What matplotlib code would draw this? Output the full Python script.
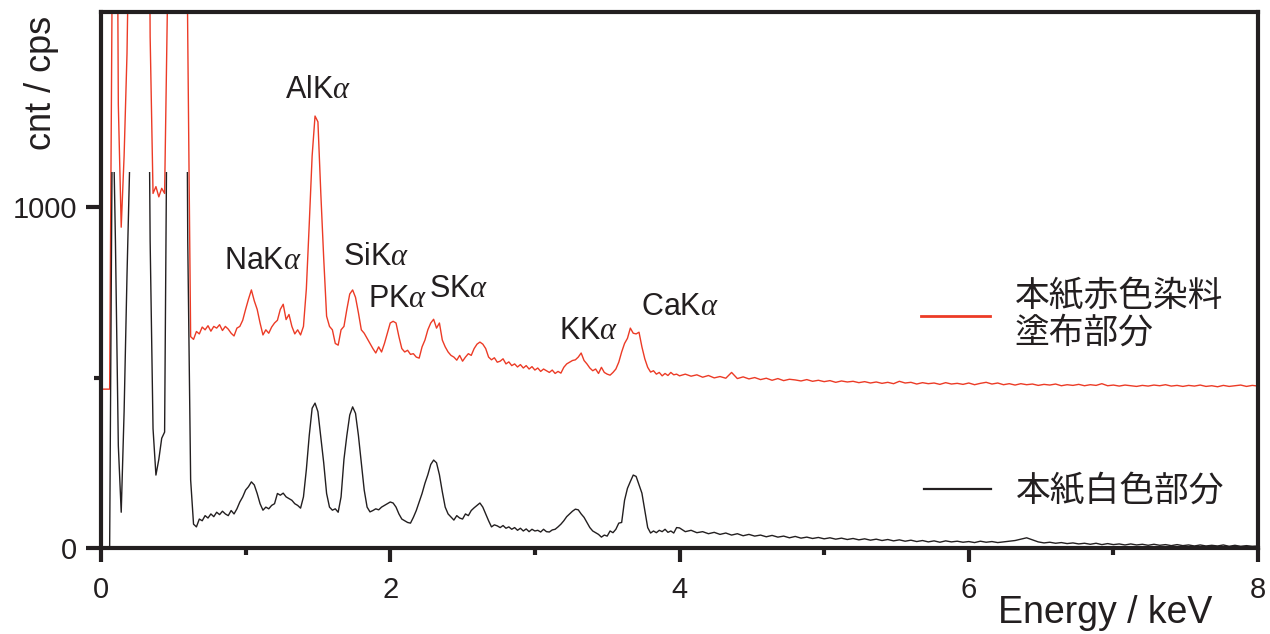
import matplotlib
matplotlib.use("Agg")
import matplotlib.pyplot as plt
from matplotlib.patches import Rectangle
import numpy as np

plt.rcParams['font.family'] = ['Liberation Sans', 'Noto Sans CJK JP', 'DejaVu Sans']
plt.rcParams['mathtext.fontset'] = 'custom'
plt.rcParams['mathtext.rm'] = 'Liberation Sans'
plt.rcParams['mathtext.it'] = 'Liberation Serif:italic'

# spectra, 0.00-4.00 keV every 0.02 keV, then 4.04-8.00 keV every 0.04 keV
red_low = [
    466, 466, 466, 466, 1850, 3000, 1300, 941, 1150, 1450,
    2000, 3000, 3000, 3000, 3000, 3000, 3000, 1500, 1040, 1060,
    1030, 1055, 1040, 1600, 3000, 3000, 3000, 3000, 3000, 2500,
    1500, 620, 612, 635, 628, 648, 640, 652, 636, 650,
    645, 655, 638, 650, 642, 630, 622, 645, 650, 668,
    700, 730, 757, 725, 700, 660, 625, 640, 630, 648,
    660, 668, 700, 715, 670, 685, 650, 628, 640, 625,
    650, 760, 950, 1150, 1267, 1250, 1040, 850, 680, 650,
    640, 600, 595, 640, 650, 700, 745, 757, 735, 690,
    640, 630, 615, 600, 585, 572, 590, 575, 600, 630,
    660, 665, 660, 620, 585, 575, 580, 568, 570, 560,
    557, 590, 610, 640, 660, 671, 645, 660, 610, 590,
    575, 565, 560, 551, 565, 548, 560, 570, 565, 585,
    598, 604, 598, 585, 560, 552, 558, 545, 548, 555,
    540, 546, 535, 540, 531, 538, 528, 535, 525, 532,
    522, 528, 518, 525, 520, 515, 522, 512, 518, 513,
    530, 540, 545, 550, 552, 560, 572, 550, 540, 528,
    520, 525, 512, 530, 515, 510, 507, 515, 525, 545,
    575, 600, 615, 645, 630, 628, 633, 590, 555, 530,
    516, 520, 510, 515, 505, 512, 506, 515, 508, 510,
    505,
]
red_high = [
    510, 504, 508, 501, 506, 499, 503, 498, 515, 497,
    502, 496, 500, 494, 498, 492, 497, 491, 495, 493,
    490, 494, 489, 492, 488, 491, 486, 490, 487, 489,
    485, 488, 484, 487, 483, 486, 482, 489, 484, 486,
    481, 485, 482, 484, 480, 485, 481, 483, 480, 484,
    479, 483, 486, 481, 484, 479, 482, 478, 482, 479,
    481, 477, 480, 478, 481, 476, 479, 477, 480, 476,
    479, 477, 482, 476, 478, 475, 478, 476, 474, 477,
    475, 478, 476, 479, 475, 477, 474, 477, 475, 478,
    474, 476, 473, 477, 474, 476, 478, 474, 477, 475,
]
black_low = [
    0, 0, 0, 0, 1375, 900, 300, 105, 400, 800,
    1150, 2000, 3000, 3000, 3000, 3000, 2000, 900, 350, 214,
    260, 322, 340, 1500, 3000, 3000, 3000, 3000, 3000, 2500,
    900, 200, 70, 62, 85, 80, 95, 88, 100, 92,
    105, 98, 108, 100, 95, 110, 100, 115, 135, 150,
    170, 180, 194, 185, 160, 130, 111, 120, 115, 125,
    130, 160, 155, 161, 150, 145, 140, 130, 125, 117,
    150, 230, 330, 410, 425, 400, 325, 250, 160, 120,
    111, 115, 105, 150, 260, 330, 390, 414, 395, 330,
    250, 170, 120, 106, 110, 115, 112, 120, 125, 130,
    135, 132, 120, 100, 85, 80, 75, 73, 90, 110,
    135, 160, 190, 215, 245, 258, 250, 215, 165, 120,
    100, 91, 82, 95, 88, 85, 100, 95, 110, 118,
    125, 132, 120, 100, 80, 62, 68, 65, 60, 66,
    58, 62, 55, 60, 52, 58, 50, 56, 48, 55,
    50, 52, 47, 55, 48, 47, 53, 55, 62, 70,
    80, 92, 100, 108, 114, 112, 100, 90, 75, 60,
    50, 45, 40, 32, 38, 35, 50, 45, 55, 73,
    75, 140, 175, 195, 214, 210, 185, 161, 110, 60,
    44, 50, 45, 52, 48, 55, 46, 50, 44, 60,
    59,
]
black_high = [
    48, 52, 45, 48, 42, 46, 40, 44, 38, 42,
    36, 40, 35, 38, 33, 37, 32, 35, 30, 34,
    29, 32, 28, 31, 27, 30, 26, 29, 25, 28,
    24, 27, 23, 26, 22, 25, 21, 24, 20, 23,
    19, 22, 18, 21, 17, 21, 18, 20, 17, 19,
    16, 20, 17, 19, 16, 18, 20, 22, 26, 30,
    24, 18, 15, 17, 14, 16, 13, 15, 12, 14,
    11, 14, 10, 13, 10, 12, 9, 12, 9, 11,
    8, 11, 8, 10, 7, 10, 7, 9, 6, 9,
    6, 8, 6, 9, 5, 8, 5, 7, 5, 6,
]

peak_labels = ['NaK$\\alpha$', 'AlK$\\alpha$', 'SiK$\\alpha$', 'PK$\\alpha$',
               'SK$\\alpha$', 'KK$\\alpha$', 'CaK$\\alpha$']
label_pos = [(1.12, 842), (1.50, 1343), (1.90, 853), (2.05, 730),
             (2.47, 760), (3.37, 636), (4.00, 707)]

RED = '#ec3b26'
BLK = '#231f20'


def energy(low, high):
    e_low = np.arange(len(low)) * 0.02
    e_high = 4.04 + np.arange(len(high)) * 0.04
    return np.concatenate([e_low, e_high]), np.array(low + high, dtype=float)


fig = plt.figure(figsize=(12.7, 6.34), dpi=100)
ax = fig.add_axes([0.0795, 0.1356, 0.9111, 0.8454])

x_r, y_r = energy(red_low, red_high)
x_b, y_b = energy(black_low, black_high)

red_line, = ax.plot(x_r, y_r, color=RED, lw=1.0)
blk_line, = ax.plot(x_b, y_b, color=BLK, lw=1.0)
# the white-paper spectrum is cut off at ~1100 cps
blk_line.set_clip_path(Rectangle((-1, -100), 10, 1202, transform=ax.transData))

ax.set_xlim(0, 8)
ax.set_ylim(0, 1572)

for s in ax.spines.values():
    s.set_linewidth(3)
    s.set_color(BLK)

ax.set_xticks([0, 2, 4, 6, 8])
ax.set_xticks([1, 3, 5, 7], minor=True)
ax.set_yticks([0, 1000])
ax.set_yticks([500], minor=True)
ax.tick_params(which='major', direction='out', length=10, width=3,
               labelsize=21, color=BLK, labelcolor=BLK, pad=10)
ax.tick_params(which='minor', direction='out', length=5, width=3, color=BLK)
ax.tick_params(axis='y', which='major', length=11, pad=6)

ax.set_xlabel('Energy / keV', fontsize=27, color=BLK)
ax.xaxis.set_label_coords(0.868, -0.088)
ax.set_ylabel('cnt / cps', fontsize=26, color=BLK)
ax.yaxis.set_label_coords(-0.051, 0.868)
ax.yaxis.label.set_va('center')

for txt, (ex, ey) in zip(peak_labels, label_pos):
    ax.text(ex, ey, txt, fontsize=22, ha='center', va='center', color=BLK)

leg1 = ax.legend([red_line], ['本紙赤色染料\n塗布部分'], loc='center left',
                 bbox_to_anchor=(0.7087, 0.4347), frameon=False, fontsize=25,
                 handlelength=2.0, handletextpad=0.7, borderpad=0, borderaxespad=0)
for t in leg1.get_texts():
    t.set_linespacing(1.1)
    t.set_color(BLK)
leg1.get_lines()[0].set_linewidth(2)
ax.add_artist(leg1)

leg2 = ax.legend([blk_line], ['本紙白色部分'], loc='center left',
                 bbox_to_anchor=(0.711, 0.1045), frameon=False, fontsize=25,
                 handlelength=1.95, handletextpad=0.7, borderpad=0, borderaxespad=0)
leg2.get_texts()[0].set_color(BLK)
leg2.get_lines()[0].set_linewidth(1.6)

fig.savefig('out.png', dpi=100)
